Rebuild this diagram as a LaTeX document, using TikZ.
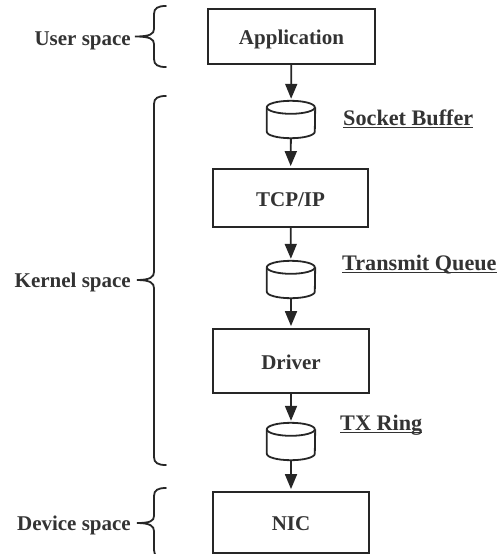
\documentclass[tikz,border=0pt]{standalone}
\usepackage{fontspec}
\setmainfont{Liberation Serif}
\usetikzlibrary{arrows.meta,calc}
\definecolor{ink}{HTML}{262626}
\definecolor{txt}{HTML}{333333}
\newcommand\ulabel[1]{\setbox0\hbox{#1}\rlap{\rule[-3pt]{\wd0}{1.4pt}}\box0}
\newcommand\drawcyl[1]{%
  \draw[cylline] ($(#1.north west)+(0,-6.5)$) arc[start angle=180,end angle=-180,x radius=24pt,y radius=6.5pt];
  \draw[cylline] ($(#1.north west)+(0,-6.5)$) -- ($(#1.south west)+(0,6.5)$)
    arc[start angle=180,end angle=360,x radius=24pt,y radius=6.5pt] -- ($(#1.north east)+(0,-6.5)$);}
\begin{document}
\begin{tikzpicture}[x=1pt,y=1pt,
  box/.style={draw=ink,line width=1.8pt,fill=white,minimum width=156pt,text height=16pt,text depth=0pt,inner sep=0pt,font=\fontsize{21}{24}\selectfont\bfseries,text=txt},
  cylnode/.style={minimum width=48pt,minimum height=37pt,inner sep=0pt},
  cylline/.style={draw=ink,line width=1.8pt},
  arr/.style={draw=ink,line width=1.8pt,-{Triangle[length=15pt,width=12pt]},shorten >=2pt},
  brc/.style={draw=ink,line width=1.8pt,line cap=round},
  side/.style={font=\fontsize{21}{24}\selectfont\bfseries,text=txt,inner sep=0pt},
  tag/.style={font=\fontsize{22.2}{24}\selectfont\bfseries,text=txt,inner sep=0pt,anchor=base west}]
\useasboundingbox (0,0) rectangle (500,-554);
\clip (0,0) rectangle (500,-554);
% boxes
\node[box,minimum width=167pt,minimum height=55pt] (app) at (291.5,-36.5) {Application};
\node[box,minimum width=155pt,minimum height=58pt] (tcp) at (290.5,-198) {TCP/IP};
\node[box,minimum height=64pt] (drv) at (291,-361) {Driver};
\node[box,minimum height=61pt] (nic) at (291,-522.5) {NIC};
% cylinders
\node[cylnode] (sb) at (291,-119.5) {};
\node[cylnode] (tq) at (291,-279.5) {};
\node[cylnode] (tx) at (291,-441.5) {};
\drawcyl{sb}
\drawcyl{tq}
\drawcyl{tx}
% arrows
\draw[arr] (app) -- (sb);
\draw[arr] (sb) -- (tcp);
\draw[arr] (tcp) -- (tq);
\draw[arr] (tq) -- (drv);
\draw[arr] (drv) -- (tx);
\draw[arr] (tx) -- (nic);
% underlined tags
\node[tag] (sbl) at (343,-125) {\ulabel{Socket Buffer}};
\node[tag] (tql) at (342,-270) {\ulabel{Transmit Queue}};
\node[tag] (txl) at (340,-430) {\ulabel{TX Ring}};
% side labels
\node[side,anchor=base east] (us) at (131,-45) {User space};
\node[side,anchor=base east] (ks) at (131,-287) {Kernel space};
\node[side,anchor=base east] (ds) at (131,-530) {Device space};
% braces
\draw[brc] (166,-6) .. controls (158,-6) and (154,-8) .. (154,-14) -- (154,-29)
  .. controls (154,-34) and (150,-36.5) .. (135,-36.5)
  .. controls (150,-36.5) and (154,-39) .. (154,-44) -- (154,-59)
  .. controls (154,-65) and (158,-67) .. (166,-67);
\draw[brc] (166,-96) .. controls (158,-96) and (154,-98) .. (154,-104) -- (154,-272)
  .. controls (154,-277) and (150,-280) .. (137,-280)
  .. controls (150,-280) and (154,-283) .. (154,-288) -- (154,-457)
  .. controls (154,-463) and (158,-465) .. (166,-465);
\draw[brc] (166,-488) .. controls (158,-488) and (154,-490) .. (154,-496) -- (154,-516)
  .. controls (154,-521) and (150,-523) .. (137,-523)
  .. controls (150,-523) and (154,-526) .. (154,-531) -- (154,-550)
  .. controls (154,-556) and (158,-558) .. (166,-558);
\end{tikzpicture}
\end{document}
